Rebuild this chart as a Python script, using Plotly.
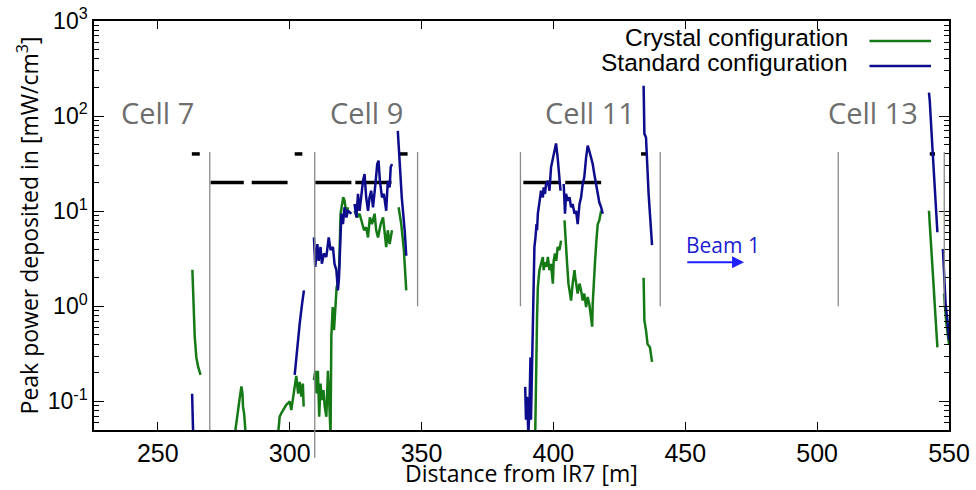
import math
import plotly.graph_objects as go

# ---------------- data ----------------
crystal_x = [263.1, 263.4, 263.6, 264.0, 264.6, 265.3, 266.2, None,
             279.2, 280.0, 280.4, 281.1, 281.7, 282.1, 282.3, 282.7, 283.0, 283.3, None,
             295.6, 296.2, 296.8, 297.5, 298.1, 298.7, 299.4, 300.0, 300.6, 301.3, 301.9, 302.5, 303.2, 303.8, 304.4, 305.0, 305.3, None,
             309.2, 309.7, 310.2, 310.7, 311.2, 311.7, 312.2, 312.8, 313.3, 313.9, 314.5, 315.0, 315.5, 315.8, 316.3, 316.8, 317.3, 317.8,
             318.3, 318.8, 319.3, 319.8, 320.3, 320.8, 321.5, 322.1, None,
             324.6, 325.6, 326.5, 327.4, 328.2, 329.0, 329.7, 330.4, 331.2, 332.2, 332.8, 333.5, 334.5, 335.4, 336.0, 336.6, 337.2, 337.9, 338.8, None,
             341.3, 342.3, 343.3, 344.2, None,
             393.1, 393.4, 393.8, 394.1, 394.3, 394.7, 395.3, 396.0, 396.3, 396.8, 397.4, 397.9, 398.5, 399.1, 399.8, 400.1, 400.6, 401.1, 401.6, 402.3, 402.9, None,
             404.2, 404.5, 405.2, 405.7, 406.2, 406.7, 407.3, 408.0, 408.3, 408.8, 409.2, 409.9, 410.5, 411.1, 411.7, 412.4, 413.0, 413.6,
             414.3, 414.7, 414.9, 415.3, 415.8, 416.3, 416.8, 417.4, 418.1, None,
             434.2, 434.5, 435.1, 435.7, 436.6, 437.4, None,
             542.4, 543.1, 543.7, 544.7, 545.6, None,
             548.1, 549.0, 550.0]
crystal_y = [2.42, 1.47, 0.84, 0.48, 0.29, 0.23, 0.19, None,
             0.045, 0.069, 0.081, 0.111, 0.144, 0.121, 0.088, 0.075, 0.059, 0.045, None,
             0.045, 0.069, 0.075, 0.081, 0.084, 0.092, 0.096, 0.10, 0.081, 0.112, 0.154, 0.185, 0.121, 0.16, 0.112, 0.154, 0.088, None,
             0.167, 0.21, 0.121, 0.21, 0.069, 0.154, 0.103, 0.131, 0.088, 0.069, 0.21, 0.069, 0.045, 0.48, 0.98, 0.56, 1.15, 1.59,
             1.73, 2.8, 9.4, 11.0, 14.0, 12.9, 9.4, 11.0, None,
             10.1, 8.6, 9.4, 7.3, 6.3, 6.8, 5.3, 8.6, 7.3, 9.4, 6.3, 5.3, 7.3, 8.6, 5.8, 4.2, 6.3, 4.5, 6.3, None,
             11.0, 7.3, 3.9, 1.47, None,
             0.045, 0.21, 0.77, 1.59, 1.87, 2.4, 2.8, 3.3, 2.4, 2.9, 2.6, 3.3, 2.4, 2.8, 1.73, 3.0, 3.6, 3.0, 4.2, 3.9, 4.9, None,
             8.0, 5.3, 2.8, 1.73, 1.47, 1.15, 1.73, 2.4, 2.0, 1.59, 1.36, 1.73, 1.47, 1.15, 1.36, 0.98, 1.25, 1.06,
             0.77, 0.61, 1.06, 1.87, 3.0, 4.9, 7.3, 8.0, 10.1, None,
             2.0, 0.71, 0.56, 0.40, 0.37, 0.26, None,
             10.1, 4.9, 2.2, 0.84, 0.37, None,
             1.36, 0.66, 0.40]

standard_x = [263.0, 263.2, 263.4, None,
              301.9, 302.8, 303.8, 304.7, 305.4, None,
              309.2, 309.7, 310.5, 311.0, 311.7, 312.2, 313.0, 313.9, 314.8, 315.5, 316.4, 317.0, 317.7, 318.3, 318.7, 319.2,
              319.6, 320.2, 320.8, 321.5, 322.1, 323.4, None,
              324.6, 325.3, 325.9, 326.5, 327.1, 327.8, 328.4, 329.0, 329.7, 330.3, 330.9, 331.6, 332.5, 333.2, 333.7, 334.2,
              335.0, 335.7, 336.6, 337.2, 337.9, 338.3, 338.8, None,
              341.0, 341.7, 342.5, 343.6, 344.2, None,
              389.3, 389.6, 390.0, 390.5, 390.9, 391.3, 391.5, 391.9, 392.3, 392.6, 392.8, 393.2, 393.6, 393.8, 394.1, 394.7,
              395.3, 396.0, 396.3, 396.8, 397.2, 397.9, 398.5, 399.1, 399.8, 400.4, 401.0, 401.6, 402.3, 402.7, None,
              403.9, 404.4, 404.8, 405.4, 406.1, 406.7, 407.3, 408.0, 408.6, 409.2, 409.9, 410.5, 411.1, 411.7, 412.4, 413.0,
              413.6, 414.3, 414.9, 415.5, 416.2, 416.8, 417.4, 418.1, 418.7, None,
              434.2, 434.5, 435.1, 436.1, 437.4, None,
              542.4, 542.7, 543.7, 544.7, 545.6, None,
              547.7, 548.2, 548.7, 549.4, 550.0]
standard_y = [0.12, 0.08, 0.045, None,
              0.19, 0.37, 0.66, 1.06, 1.47, None,
              5.3, 2.6, 4.5, 3.0, 4.2, 2.8, 3.6, 3.3, 5.3, 3.9, 4.2, 2.8, 2.4, 1.47, 2.0, 6.3,
              9.4, 7.3, 11.0, 8.6, 10.1, 9.4, None,
              11.9, 8.6, 15.2, 10.1, 14.0, 20.9, 24.6, 14.0, 10.1, 14.0, 16.4, 11.0, 19.3, 31.3, 34.0, 20.9,
              14.0, 15.2, 10.1, 20.9, 17.8, 28.9, 31.3, None,
              70.0, 31.3, 14.0, 6.3, 3.4, None,
              0.142, 0.064, 0.112, 0.045, 0.081, 0.29, 0.064, 0.29, 0.56, 1.87, 4.2, 5.3, 7.3, 6.3, 9.4, 12.4,
              16.4, 14.0, 17.8, 15.2, 19.3, 20.9, 16.4, 28.9, 36.8, 43.2, 51.6, 36.8, 20.9, 16.4, None,
              19.3, 9.4, 15.2, 12.9, 14.0, 11.0, 11.9, 9.4, 10.1, 7.3, 11.9, 14.0, 19.3, 22.7, 36.8, 48.8,
              43.2, 36.8, 31.3, 24.6, 19.3, 16.4, 12.4, 11.0, 9.4, None,
              208.0, 65.0, 60.0, 15.1, 4.4, None,
              177.0, 145.0, 47.0, 14.0, 6.0, None,
              4.0, 1.87, 1.06, 0.71, 0.44]

# quench-limit style black levels
limit_x = [270.0, 282.6, None, 285.6, 299.2, None, 309.7, 323.4, None, 324.9, 338.6, None,
           388.6, 402.5, None, 404.5, 418.1, None,
           262.9, 265.9, None, 301.9, 304.8, None, 341.7, 344.7, None, 433.2, 435.1, None, 542.7, 544.7]
limit_y = [20, 20, None, 20, 20, None, 20, 20, None, 20, 20, None,
           20, 20, None, 20, 20, None,
           40, 40, None, 40, 40, None, 40, 40, None, 40, 40, None, 40, 40]

# cell boundaries (x, bottom value, top value); bottom None = extends below the axis
boundary_x = [269.7, 309.5, 348.5, 387.5, 440.5, 508.0, 548.2]
boundary_bottom = [0.05, None, 1.0, 1.0, 1.0, 1.0, 1.0]
boundary_top = 42

cell_names = ["Cell 7", "Cell 9", "Cell 11", "Cell 13"]
cell_label_x = [250, 329, 414, 521]
cell_label_y = 110

x_ticks = [250, 300, 350, 400, 450, 500, 550]
y_tick_exp = [-1, 0, 1, 2, 3]

x_title = "Distance from IR7 [m]"
y_title = "Peak power deposited in [mW/cm<sup>3</sup>]"
legend_names = ["Crystal configuration", "Standard configuration"]
GREEN = "#157a15"
BLUE = "#0c0c8c"
colors = [GREEN, BLUE]

X_RANGE = [225.8, 550.0]
Y_RANGE = [math.log10(0.05), 3.0]

fig = go.Figure()

fig.add_trace(go.Scatter(x=limit_x, y=limit_y, mode="lines",
                         line=dict(color="black", width=3.5), showlegend=False,
                         hoverinfo="skip"))
fig.add_trace(go.Scatter(x=crystal_x, y=crystal_y, mode="lines", name=legend_names[0],
                         line=dict(color=GREEN, width=2.5), connectgaps=False, showlegend=False))
fig.add_trace(go.Scatter(x=standard_x, y=standard_y, mode="lines", name=legend_names[1],
                         line=dict(color=BLUE, width=2.5), connectgaps=False, showlegend=False))

shapes = []
def ypaper(v):
    return (math.log10(v) - Y_RANGE[0]) / (Y_RANGE[1] - Y_RANGE[0])

for bx, bb in zip(boundary_x, boundary_bottom):
    if bb is None:
        shapes.append(dict(type="line", xref="x", yref="paper", x0=bx, x1=bx,
                           y0=-0.068, y1=ypaper(boundary_top),
                           line=dict(color="#8a8a8a", width=1.3)))
    else:
        shapes.append(dict(type="line", xref="x", yref="y", x0=bx, x1=bx,
                           y0=bb, y1=boundary_top,
                           line=dict(color="#8a8a8a", width=1.3)))

# manual legend (text left of the line sample)
legend_text_y = [0.960, 0.899]
legend_line_y = [0.951, 0.890]
annotations = []
for name, col, ty, ly in zip(legend_names, colors, legend_text_y, legend_line_y):
    annotations.append(dict(xref="paper", yref="paper", x=0.884, y=ty, text=name,
                            showarrow=False, xanchor="right", yanchor="middle",
                            font=dict(family="Liberation Sans", size=24.5, color="black")))
    shapes.append(dict(type="line", xref="paper", yref="paper", x0=0.907, x1=0.979,
                       y0=ly, y1=ly, line=dict(color=col, width=2.5)))

for nm, cx in zip(cell_names, cell_label_x):
    annotations.append(dict(xref="x", yref="y", x=cx, y=math.log10(cell_label_y), text=nm,
                            showarrow=False, xanchor="center", yanchor="middle",
                            font=dict(family="Open Sans", size=29, color="#6e6e6e")))

# Beam 1 arrow
annotations.append(dict(xref="x", yref="y", x=464.3, y=math.log10(4.4), text="Beam 1",
                        showarrow=False, font=dict(family="Open Sans", size=21, color="#1c1cd0")))
annotations.append(dict(xref="x", yref="y", x=472.3, y=math.log10(2.9), axref="x", ayref="y",
                        ax=450.2, ay=math.log10(2.9), text="", showarrow=True,
                        arrowhead=2, arrowsize=1.2, arrowwidth=2, arrowcolor="#2020ff"))

# x axis title (placed explicitly below the tick labels)
annotations.append(dict(xref="paper", yref="paper", x=0.5, y=-0.1467, text=x_title,
                        showarrow=False, xanchor="center", yanchor="bottom", borderpad=0,
                        font=dict(family="Open Sans", size=23, color="black")))

y_minor = [m * 10 ** e for e in range(-2, 3) for m in range(2, 10) if 0.05 <= m * 10 ** e <= 1000]

fig.update_layout(
    width=976, height=490,
    margin=dict(l=94, r=27, t=21, b=60, autoexpand=False),
    plot_bgcolor="white", paper_bgcolor="white",
    shapes=shapes, annotations=annotations,
    showlegend=False,
    xaxis=dict(range=X_RANGE, tickmode="array", tickvals=x_ticks, automargin=False,
               ticks="inside", ticklen=8, tickwidth=1.2, tickcolor="black",
               showline=True, linecolor="black", linewidth=1.5, mirror="ticks",
               showgrid=False, zeroline=False,
               tickfont=dict(family="Liberation Sans", size=25, color="black")),
    yaxis=dict(type="log", range=Y_RANGE, tickmode="array", automargin=False,
               tickvals=[10 ** e for e in y_tick_exp],
               ticktext=["10<sup>%d</sup>" % e for e in y_tick_exp],
               ticks="inside", ticklen=10, tickwidth=1.2, tickcolor="black",
               minor=dict(ticks="inside", ticklen=5, tickwidth=1, tickcolor="black",
                          tickmode="array", tickvals=y_minor, showgrid=False),
               showline=True, linecolor="black", linewidth=1.5, mirror="ticks",
               showgrid=False, zeroline=False,
               tickfont=dict(family="Liberation Sans", size=23, color="black"),
               title=dict(text=y_title, standoff=3,
                          font=dict(family="Open Sans", size=23, color="black"))),
)

fig.write_html("out.html")
